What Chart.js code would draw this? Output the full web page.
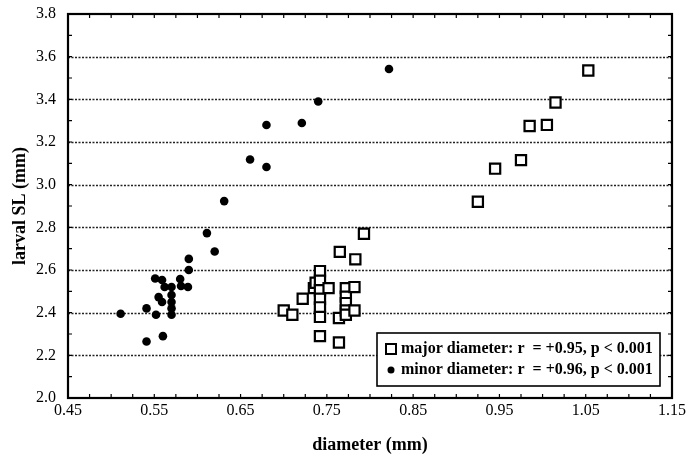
<!DOCTYPE html>
<html>
<head>
<meta charset="utf-8">
<script src="https://cdn.jsdelivr.net/npm/chart.js@4.4.1/dist/chart.umd.min.js"></script>
<style>
  html, body { margin: 0; padding: 0; background: #fff; }
  #wrap { width: 689px; height: 460px; }
</style>
</head>
<body>
<div id="wrap"><canvas id="chart" width="689" height="460"></canvas></div>
<script>
// values
const majorX = [0.70, 0.71, 0.722, 0.735, 0.737, 0.742, 0.742, 0.742, 0.742, 0.742, 0.742, 0.742, 0.752, 0.764, 0.764, 0.765, 0.772, 0.772, 0.772, 0.772, 0.772, 0.782, 0.782, 0.783, 0.793, 0.925, 0.945, 0.975, 0.985, 1.005, 1.015, 1.053]
const majorY = [2.41, 2.39, 2.465, 2.515, 2.54, 2.595, 2.55, 2.505, 2.465, 2.425, 2.38, 2.29, 2.515, 2.26, 2.375, 2.685, 2.515, 2.475, 2.445, 2.41, 2.39, 2.52, 2.41, 2.65, 2.77, 2.92, 3.075, 3.115, 3.275, 3.28, 3.385, 3.535]

const minorX = [0.511, 0.541, 0.541, 0.552, 0.551, 0.559, 0.56, 0.562, 0.555, 0.559, 0.57, 0.57, 0.57, 0.57, 0.57, 0.58, 0.581, 0.589, 0.59, 0.59, 0.62, 0.611, 0.631, 0.661, 0.68, 0.68, 0.721, 0.74, 0.822]
const minorY = [2.395, 2.42, 2.265, 2.39, 2.56, 2.553, 2.29, 2.52, 2.473, 2.45, 2.52, 2.483, 2.45, 2.42, 2.39, 2.558, 2.525, 2.52, 2.60, 2.652, 2.687, 2.773, 2.923, 3.118, 3.083, 3.28, 3.289, 3.39, 3.542]

const xTicks = [0.45, 0.55, 0.65, 0.75, 0.85, 0.95, 1.05, 1.15]
const yTicks = [2.0, 2.2, 2.4, 2.6, 2.8, 3.0, 3.2, 3.4, 3.6, 3.8]

const seriesLabels = [
  'major diameter: r  = +0.95, p < 0.001',
  'minor diameter: r  = +0.96, p < 0.001',
]

const serif = "'Liberation Serif', 'Times New Roman', serif"

const toPoints = (xs, ys) => xs.map((x, i) => ({ x: x, y: ys[i] }))

// dotted horizontal grid, drawn under the points
const gridPlugin = {
  id: 'dottedGrid',
  beforeDatasetsDraw(chart) {
    const { ctx, chartArea, scales } = chart
    ctx.save()
    ctx.strokeStyle = '#222'
    ctx.lineWidth = 1.4
    ctx.setLineDash([2, 1.5])
    yTicks.slice(1, -1).forEach(v => {
      const y = Math.round(scales.y.getPixelForValue(v)) + 0.5
      ctx.beginPath()
      ctx.moveTo(chartArea.left, y)
      ctx.lineTo(chartArea.right, y)
      ctx.stroke()
    })
    ctx.restore()
  },
}

// box frame + small inward ticks + legend box
const framePlugin = {
  id: 'frame',
  afterDatasetsDraw(chart) {
    const { ctx, chartArea: a, scales } = chart
    ctx.save()
    ctx.strokeStyle = '#000'
    ctx.lineWidth = 1.2
    // x minor ticks every 0.025
    for (let i = 0; i <= 28; i++) {
      const x = scales.x.getPixelForValue(0.45 + i * 0.025)
      ctx.beginPath()
      ctx.moveTo(x, a.bottom); ctx.lineTo(x, a.bottom - 4)
      ctx.moveTo(x, a.top); ctx.lineTo(x, a.top + 4)
      ctx.stroke()
    }
    // y minor ticks every 0.1
    for (let i = 0; i <= 18; i++) {
      const y = scales.y.getPixelForValue(2.0 + i * 0.1)
      ctx.beginPath()
      ctx.moveTo(a.left, y); ctx.lineTo(a.left + 4, y)
      ctx.moveTo(a.right, y); ctx.lineTo(a.right - 4, y)
      ctx.stroke()
    }
    ctx.lineWidth = 2.2
    ctx.strokeRect(a.left, a.top, a.right - a.left, a.bottom - a.top)

    // legend
    const w = 283, h = 53
    const lx = a.right - 12 - w, ly = a.bottom - 12 - h
    ctx.fillStyle = '#fff'
    ctx.fillRect(lx, ly, w, h)
    ctx.lineWidth = 1.6
    ctx.strokeRect(lx, ly, w, h)
    ctx.fillStyle = '#000'
    ctx.font = 'bold 16px ' + serif
    ctx.textBaseline = 'middle'
    ctx.textAlign = 'left'
    const row1 = ly + 16, row2 = ly + 37
    ctx.lineWidth = 2
    ctx.strokeRect(lx + 9, row1 - 5, 10, 10)
    ctx.beginPath()
    ctx.arc(lx + 14, row2, 3.5, 0, Math.PI * 2)
    ctx.fill()
    ctx.fillText(seriesLabels[0], lx + 24, row1)
    ctx.fillText(seriesLabels[1], lx + 24, row2)
    ctx.restore()
  },
}

new Chart(document.getElementById('chart'), {
  type: 'scatter',
  data: {
    datasets: [
      {
        label: seriesLabels[0],
        data: toPoints(majorX, majorY),
        pointStyle: 'rect',
        pointRadius: 7.2,
        pointBorderWidth: 2.2,
        pointBorderColor: '#000',
        pointBackgroundColor: '#fff',
      },
      {
        label: seriesLabels[1],
        data: toPoints(minorX, minorY),
        pointStyle: 'circle',
        pointRadius: 4.3,
        pointBorderWidth: 0,
        pointBackgroundColor: '#000',
        pointBorderColor: '#000',
      },
    ],
  },
  options: {
    responsive: false,
    animation: false,
    layout: { padding: { top: 14, right: 12, left: 0, bottom: 0 } },
    plugins: {
      legend: { display: false },
      tooltip: { enabled: false },
    },
    scales: {
      x: {
        type: 'linear',
        min: 0.45,
        max: 1.15,
        afterBuildTicks: s => { s.ticks = xTicks.map(v => ({ value: v })) },
        afterFit: s => { s.height = 62 },
        grid: { display: false, drawTicks: false },
        border: { display: false },
        ticks: {
          color: '#000',
          padding: 3,
          maxRotation: 0,
          font: { family: serif, size: 16 },
          callback: v => v.toFixed(2),
        },
        title: {
          display: true,
          text: 'diameter (mm)',
          color: '#000',
          padding: { top: 11 },
          font: { family: serif, size: 18, weight: 'bold' },
        },
      },
      y: {
        min: 2.0,
        max: 3.8,
        afterBuildTicks: s => { s.ticks = yTicks.map(v => ({ value: v })) },
        afterFit: s => { s.width = 68; s.paddingTop = 0; s.paddingBottom = 0 },
        grid: { display: false, drawTicks: false },
        border: { display: false },
        ticks: {
          color: '#000',
          padding: 12,
          font: { family: serif, size: 16 },
          callback: v => v.toFixed(1),
        },
        title: {
          display: true,
          text: 'larval SL (mm)',
          color: '#000',
          padding: { top: 10, bottom: 4 },
          font: { family: serif, size: 18, weight: 'bold' },
        },
      },
    },
  },
  plugins: [gridPlugin, framePlugin],
})
</script>
</body>
</html>
